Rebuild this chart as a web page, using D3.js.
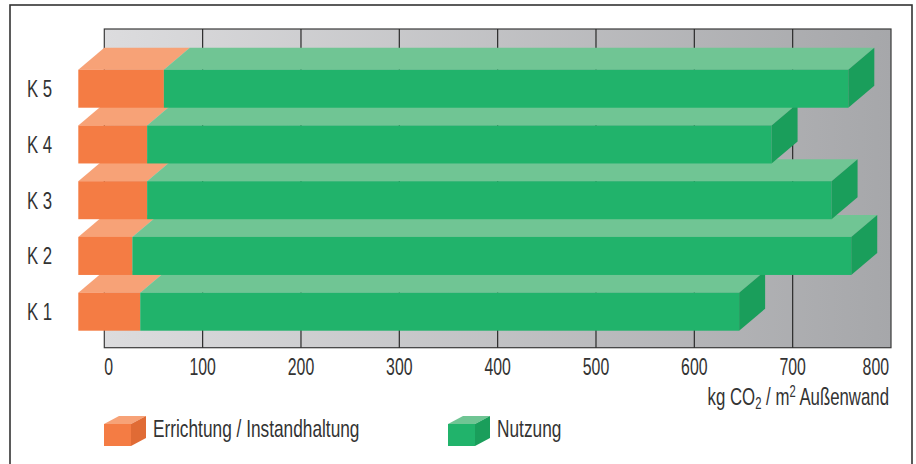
<!DOCTYPE html>
<html>
<head>
<meta charset="utf-8">
<script src="https://cdn.jsdelivr.net/npm/d3@7/dist/d3.min.js"></script>
<style>
    html, body { margin: 0; padding: 0; background: #fff; }
    svg { display: block; }
</style>
</head>
<body>
<div id="chart"></div>
<script>
// Chart data (kg CO2 / m2 Außenwand)
var categories = ['K 5', 'K 4', 'K 3', 'K 2', 'K 1'];
var errichtung = [87, 70, 70, 55, 63];
var nutzung = [696, 635, 696, 731, 609];
var xTicks = [0, 100, 200, 300, 400, 500, 600, 700, 800];
var seriesNames = ['Errichtung / Instandhaltung', 'Nutzung'];

var colors = {
    orange: { front: '#f47c44', top: '#f7a277', side: '#e06b35' },
    green: { front: '#21b36b', top: '#70c594', side: '#1a9e5b' }
};

// No condensed font installed, so squeeze a regular sans horizontally
var font = '"Liberation Sans", Arial, sans-serif';
var fontSize = 24;
var textColor = '#333';
var width = 916, height = 464;

var svg = d3.select('#chart').append('svg')
    .attr('width', width)
    .attr('height', height);

function addText(parent, tx, ty, anchor, sx) {
    return parent.append('g')
        .attr('transform', 'translate(' + tx + ',' + ty + ') scale(' + sx + ',1)')
        .append('text')
        .attr('text-anchor', anchor)
        .attr('font-family', font)
        .attr('font-size', fontSize)
        .attr('fill', textColor);
}

// Outer frame
svg.append('rect')
    .attr('x', 10).attr('y', 5)
    .attr('width', 902).attr('height', 480)
    .attr('fill', 'none')
    .attr('stroke', '#333')
    .attr('stroke-width', 1.6);

var x = d3.scaleLinear().domain([0, 800]).range([104.3, 891]);
var y = d3.scaleBand().domain(categories).range([69.7, 330.7]).paddingInner(0.318).paddingOuter(0);
var dx = 26, dy = 22;

// Plot background with gradient
var defs = svg.append('defs');
var grad = defs.append('linearGradient').attr('id', 'bg').attr('x1', 0).attr('x2', 1).attr('y1', 0).attr('y2', 0);
grad.append('stop').attr('offset', '0%').attr('stop-color', '#dcdcde');
grad.append('stop').attr('offset', '100%').attr('stop-color', '#a6a7aa');

var plotTop = 29, plotBottom = 347.7;
svg.append('rect')
    .attr('x', x(0)).attr('y', plotTop)
    .attr('width', x(800) - x(0)).attr('height', plotBottom - plotTop)
    .attr('fill', 'url(#bg)')
    .attr('stroke', '#3a3a3a')
    .attr('stroke-width', 1.2);

// Gridlines
svg.selectAll('.grid')
    .data(xTicks.slice(1, -1))
    .enter().append('line')
    .attr('class', 'grid')
    .attr('x1', function(d) { return x(d); })
    .attr('x2', function(d) { return x(d); })
    .attr('y1', plotTop).attr('y2', plotBottom)
    .attr('stroke', '#2a2a2a')
    .attr('stroke-width', 1.2);

// 3D bars, drawn from bottom (K 1) to top (K 5) so upper bars overlap lower ones
var h = y.bandwidth();
var order = d3.range(categories.length).reverse();

function poly(pts) {
    return pts.map(function(p) { return p.join(','); }).join(' ');
}

order.forEach(function(i) {
    var top = y(categories[i]);
    var segs = [
        { a: 0, b: errichtung[i], c: colors.orange },
        { a: errichtung[i], b: errichtung[i] + nutzung[i], c: colors.green }
    ];
    var g = svg.append('g').attr('class', 'bar');

    segs.forEach(function(s) {
        var xa = x(s.a), xb = x(s.b);
        // top face
        g.append('polygon')
            .attr('points', poly([[xa - dx, top], [xa, top - dy], [xb, top - dy], [xb - dx, top]]))
            .attr('fill', s.c.top);
        // front face
        g.append('rect')
            .attr('x', xa - dx).attr('y', top)
            .attr('width', xb - xa).attr('height', h)
            .attr('fill', s.c.front);
    });

    // right side face at the end of the bar
    var xe = x(errichtung[i] + nutzung[i]);
    g.append('polygon')
        .attr('points', poly([[xe - dx, top], [xe, top - dy], [xe, top - dy + h], [xe - dx, top + h]]))
        .attr('fill', colors.green.side);
});

// Category labels
categories.forEach(function(c) {
    addText(svg, 27, y(c) + h / 2 + 8.5, 'start', 0.7).text(c);
});

// Tick labels (first and last kept inside the plot)
xTicks.forEach(function(d, i) {
    var anchor = i === 0 ? 'start' : (i === xTicks.length - 1 ? 'end' : 'middle');
    var tx = i === xTicks.length - 1 ? x(d) - 2 : x(d);
    addText(svg, tx, 375, anchor, 0.66).text(d);
});

// Axis title
var title = addText(svg, 889, 405, 'end', 0.7);
title.append('tspan').text('kg CO');
title.append('tspan').attr('font-size', 16).attr('dy', 4).text('2');
title.append('tspan').attr('dy', -4).text(' / m');
title.append('tspan').attr('font-size', 16).attr('dy', -8).text('2');
title.append('tspan').attr('dy', 8).text(' Au\u00dfenwand');

// Legend with small cubes
var legendItems = [
    { label: seriesNames[0], c: colors.orange, x: 104 },
    { label: seriesNames[1], c: colors.green, x: 448 }
];
legendItems.forEach(function(item) {
    var lg = svg.append('g').attr('transform', 'translate(' + item.x + ',424)');
    var w = 27, lh = 22, ldx = 15, ldy = 8;
    lg.append('polygon')
        .attr('points', poly([[0, 0], [ldx, -ldy], [w + ldx, -ldy], [w, 0]]))
        .attr('fill', item.c.top);
    lg.append('polygon')
        .attr('points', poly([[w, 0], [w + ldx, -ldy], [w + ldx, lh - ldy], [w, lh]]))
        .attr('fill', item.c.side);
    lg.append('rect')
        .attr('width', w).attr('height', lh)
        .attr('fill', item.c.front);
    addText(lg, w + ldx + 7, 13, 'start', 0.72).text(item.label);
});
</script>
</body>
</html>
